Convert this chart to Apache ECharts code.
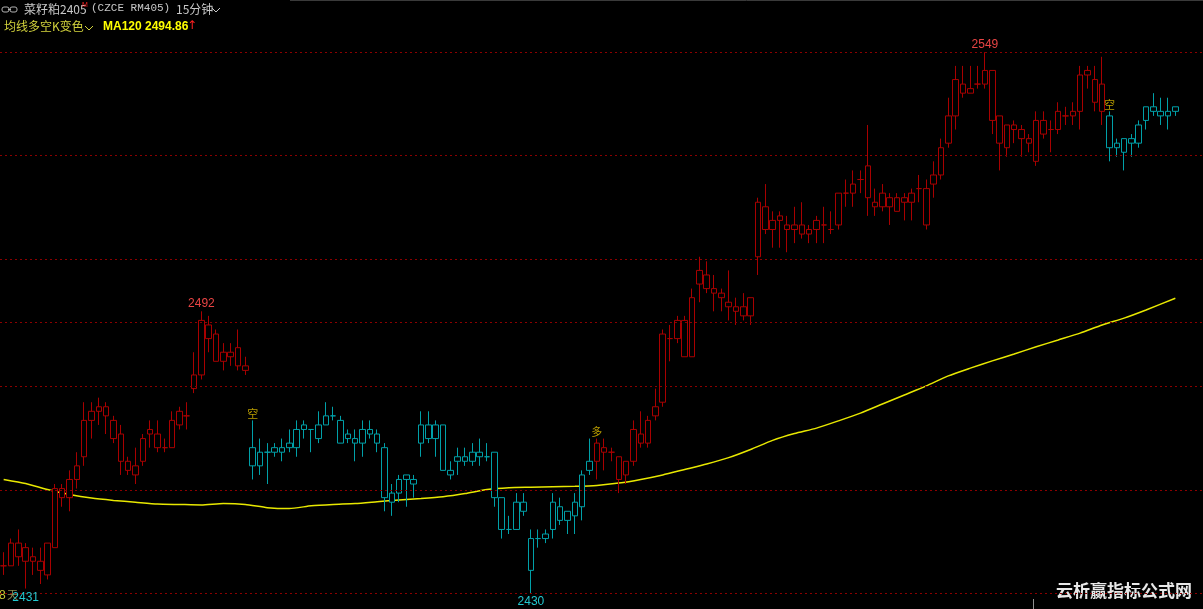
<!DOCTYPE html>
<html>
<head>
<meta charset="utf-8">
<script src="https://cdn.jsdelivr.net/npm/echarts@6/dist/echarts.min.js"></script>
<style>
html,body{margin:0;padding:0;background:#000;}
#chart{width:1203px;height:609px;}
</style>
</head>
<body>
<div id="chart"></div>
<script>
// ---- data (15-minute bars, 菜籽粕2405) ----
const opens  = [2436,2436,2441,2440,2437,2437,2434,2440,2453,2451,2455,2460,2468,2470,2471,2468,2465,2459,2456,2459,2465,2465,2462,2462,2467,2469,2475,2478,2489,2487,2481,2482,2484,2480,
2462,2458,2461,2461,2461,2463,2462,2467,2466,2464,2467,2469,2468,2464,2464,2463,2466,2465,2462,2450,2452,2455,2455,2463,2467,2464,2467,2457,2460,2459,2459,2460,2460,2461,2451,2444,2444,2450,2435,2442,2442,2444,2449,2446,2447,2449,2457,
2459,2462,2461,2460,2456,2459,2465,2463,2469,2472,2486,2486,2490,2482,2498,2500,2497,2496,2494,2492,2493,2491,2504,2515,2510,2513,2511,2510,2511,2509,2510,2511,2510,2511,2518,2518,2521,2524,2516,2515,2517,2514,2516,2516,2519,2511,2520,2522,2529,2535,2542,2540,2542,2542,2545,2535,2528,2533,2532,2530,2525,2534,2532,2532,2535,2535,2536,2544,2538,2542,
2535,2529,2527,2529,2529,2534,2537,2536,2535,2536];
const closes = [2436,2441,2438,2437,2438,2435,2441,2453,2451,2455,2458,2468,2470,2471,2469,2464,2459,2457,2458,2464,2466,2462,2462,2468,2470,2469,2478,2490,2486,2481,2483,2483,2480,2479,
2458,2461,2461,2462,2462,2462,2466,2466,2466,2467,2469,2469,2463,2465,2463,2466,2465,2463,2451,2452,2455,2456,2454,2467,2464,2467,2457,2456,2459,2460,2461,2461,2460,2451,2444,2444,2450,2448,2442,2442,2443,2450,2446,2448,2450,2456,2459,
2463,2461,2461,2455,2459,2466,2463,2468,2471,2487,2486,2490,2482,2495,2501,2497,2496,2495,2493,2493,2491,2495,2516,2510,2512,2512,2510,2511,2509,2510,2512,2511,2510,2518,2518,2520,2521,2517,2515,2518,2515,2517,2517,2518,2519,2519,2522,2528,2535,2543,2540,2541,2542,2545,2534,2529,2533,2532,2530,2529,2534,2531,2532,2536,2535,2536,2544,2545,2543,2536,
2528,2528,2530,2530,2533,2537,2536,2535,2536,2537];
const lows   = [2434,2436,2436,2431,2434,2432,2433,2440,2449,2448,2453,2458,2464,2467,2465,2463,2456,2456,2454,2458,2462,2461,2461,2462,2466,2466,2474,2477,2483,2481,2479,2480,2479,2478,
2455,2456,2454,2460,2459,2461,2460,2464,2461,2463,2467,2468,2463,2463,2459,2460,2464,2461,2448,2447,2450,2449,2451,2460,2463,2460,2457,2455,2456,2458,2458,2458,2459,2449,2442,2443,2444,2447,2430,2440,2441,2442,2445,2443,2443,2446,2456,
2455,2457,2459,2452,2454,2458,2462,2462,2468,2471,2481,2485,2482,2482,2494,2496,2492,2492,2490,2489,2490,2489,2500,2509,2506,2506,2505,2507,2508,2507,2507,2507,2509,2510,2515,2515,2518,2513,2513,2514,2511,2514,2512,2512,2516,2510,2517,2521,2528,2532,2539,2540,2541,2541,2531,2523,2526,2529,2526,2527,2524,2530,2527,2531,2533,2533,2532,2541,2536,2533,
2525,2526,2523,2526,2528,2532,2535,2533,2532,2535];
const highs  = [2439,2442,2444,2441,2440,2440,2441,2454,2454,2457,2461,2472,2472,2473,2472,2469,2467,2460,2462,2465,2468,2468,2464,2470,2471,2472,2483,2492,2491,2488,2485,2485,2488,2482,
2468,2464,2463,2463,2464,2466,2468,2468,2466,2470,2472,2471,2469,2466,2466,2468,2468,2466,2463,2454,2456,2456,2456,2470,2470,2468,2467,2459,2462,2462,2463,2464,2463,2461,2451,2447,2452,2452,2444,2444,2444,2452,2451,2448,2452,2457,2464,
2464,2464,2462,2460,2459,2468,2470,2469,2475,2488,2489,2491,2491,2497,2504,2503,2500,2497,2501,2495,2496,2495,2517,2520,2514,2514,2513,2515,2516,2511,2513,2515,2514,2518,2521,2523,2523,2533,2519,2520,2518,2518,2518,2519,2522,2521,2525,2530,2539,2546,2546,2546,2546,2549,2545,2535,2533,2534,2533,2531,2536,2536,2534,2538,2537,2538,2546,2546,2546,2548,
2536,2530,2530,2531,2534,2537,2540,2539,2539,2537];

// MA120 readings (bar index -> value)
const maIndex = [0,3,6,9,12,15,18,21,24,27,30,33,36,39,42,45,48,51,54,57,60,63,66,69,72,75,78,81,84,87,90,93,96,99,102,105,108,111,114,117,120,123,126,129,132,135,138,141,144,147,150,153,156,160];
const maValue = [2455.0,2454.1,2452.8,2451.7,2450.9,2450.4,2450.0,2449.6,2449.5,2449.4,2449.7,2449.5,2448.8,2448.6,2449.2,2449.5,2449.7,2450.1,2450.5,2450.8,2451.2,2451.9,2452.8,2453.2,2453.3,2453.4,2453.5,2453.7,2454.2,2455.0,2456.0,2457.2,2458.4,2459.8,2461.6,2463.6,2465.1,2466.3,2467.9,2469.6,2471.6,2473.6,2475.6,2477.8,2479.5,2481.1,2482.6,2484.2,2485.7,2487.2,2489.0,2490.5,2492.3,2494.86];

// regime switches (均线多空K变色)
const signalIndex = [0, 34, 81, 151];
const signalSide  = ['多','空','多','空'];
const signalShown = [false, true, true, true];

// labelled extremes
const extremeIndex = [134, 27, 3, 72];
const extremeKind  = ['high','high','low','low'];

// horizontal reference levels as fractions of the visible range
const levelRatios = [0, 0.191, 0.382, 0.5, 0.618, 0.809, 1];

const categories = opens.map((_, i) => 'K' + (i + 1));

// ---- build ----
const lo = Math.min(...lows), hi = Math.max(...highs);
const levels = levelRatios.map(r => lo + r * (hi - lo));
const Y_MIN = 2426.5, Y_MAX = 2560.5;

const STY = {
  '多': {color:'#000000', color0:'#ff0000', borderColor:'#a80000', borderColor0:'#d00000'},
  '空': {color:'#000000', color0:'#00ffff', borderColor:'#00a0a8', borderColor0:'#00c8c8'}
};
function sideAt(i){
  let s = signalSide[0];
  for (let k = 0; k < signalIndex.length; k++) if (i >= signalIndex[k]) s = signalSide[k];
  return s;
}
const candleData = opens.map((o, i) => ({
  value: [o, closes[i], lows[i], highs[i]],
  itemStyle: STY[sideAt(i)]
}));

const markPts = [];
extremeIndex.forEach((idx, k) => {
  const isHigh = extremeKind[k] === 'high';
  markPts.push({
    coord: [idx, isHigh ? highs[idx] : lows[idx]],
    value: isHigh ? highs[idx] : lows[idx],
    label: {
      show: true,
      position: isHigh ? 'top' : 'bottom',
      distance: isHigh ? 2 : 3,
      formatter: String(isHigh ? highs[idx] : lows[idx]),
      color: isHigh ? '#e84444' : '#22c8d0',
      fontSize: 12,
      fontFamily: 'Liberation Sans, Arial, sans-serif'
    }
  });
});
signalIndex.forEach((idx, k) => {
  if (!signalShown[k]) return;
  markPts.push({
    coord: [idx, highs[idx]],
    value: signalSide[k],
    label: {
      show: true, position: 'top', distance: 1,
      formatter: signalSide[k],
      color: '#b89c00', fontSize: 11,
      fontFamily: 'Noto Sans CJK SC, sans-serif'
    }
  });
});

const maLast = maValue[maValue.length - 1];

const chart = echarts.init(document.getElementById('chart'), null, {renderer: 'canvas'});
chart.setOption({
  backgroundColor: '#000000',
  animation: false,
  grid: [
    {left: -1, width: 1180, top: 0, bottom: 0},
    {left: 0, right: 0, top: 0, bottom: 0}
  ],
  xAxis: [
    {type: 'category', data: categories, gridIndex: 0, boundaryGap: true, show: false},
    {type: 'value', gridIndex: 1, min: 0, max: 1, show: false}
  ],
  yAxis: [
    {type: 'value', gridIndex: 0, min: Y_MIN, max: Y_MAX, show: false, splitLine: {show: false}},
    {type: 'value', gridIndex: 1, min: Y_MIN, max: Y_MAX, show: false, splitLine: {show: false}}
  ],
  series: [
    {
      type: 'line', xAxisIndex: 1, yAxisIndex: 1, z: 1,
      data: [[0, lo], [1, lo]], symbol: 'none',
      lineStyle: {opacity: 0}, silent: true,
      markLine: {
        silent: true, symbol: ['none', 'none'], label: {show: false},
        lineStyle: {color: '#8c0000', type: [2, 3], width: 1},
        data: levels.map(v => ({yAxis: v}))
      }
    },
    {
      type: 'line', xAxisIndex: 0, yAxisIndex: 0, z: 3,
      data: maIndex.map((idx, k) => [idx, maValue[k]]),
      symbol: 'none', smooth: 0.2,
      lineStyle: {color: '#e8e800', width: 1.5}
    },
    {
      type: 'candlestick', xAxisIndex: 0, yAxisIndex: 0, z: 4,
      barWidth: 6,
      data: candleData,
      markPoint: {
        symbol: 'circle', symbolSize: 0.1,
        itemStyle: {color: 'rgba(0,0,0,0)'},
        data: markPts
      }
    }
  ],
  graphic: [
    {type: 'line', shape: {x1: 290, y1: 0.5, x2: 1203, y2: 0.5}, style: {stroke: '#3a3a3a', lineWidth: 1}},
    {type: 'rect', shape: {x: 2, y: 7, width: 7, height: 5, r: 2}, style: {fill: 'none', stroke: '#b0b0b0', lineWidth: 1}},
    {type: 'rect', shape: {x: 10, y: 7, width: 7, height: 5, r: 2}, style: {fill: 'none', stroke: '#b0b0b0', lineWidth: 1}},
    {type: 'line', shape: {x1: 8, y1: 9.5, x2: 11, y2: 9.5}, style: {stroke: '#b0b0b0', lineWidth: 1}},
    {type: 'text', left: 24, top: 3, style: {text: '菜籽粕2405', fill: '#c8c8c8', font: '12px "Noto Sans CJK SC", sans-serif'}},
    {type: 'text', left: 82, top: 2, style: {text: 'M', fill: '#ff2020', font: '7px "Liberation Sans", sans-serif'}},
    {type: 'text', left: 91, top: 3, style: {text: '(CZCE RM405)', fill: '#c8c8c8', font: '11px "Liberation Mono", monospace'}},
    {type: 'text', left: 176, top: 3, style: {text: '15分钟', fill: '#c8c8c8', font: '12px "Noto Sans CJK SC", sans-serif'}},
    {type: 'polyline', shape: {points: [[212, 8], [216, 12], [220, 8]]}, style: {stroke: '#c8c8c8', lineWidth: 1, fill: 'none'}},
    {type: 'text', left: 4, top: 20, style: {text: '均线多空K变色', fill: '#d2d23c', font: '12px "Noto Sans CJK SC", sans-serif'}},
    {type: 'polyline', shape: {points: [[85, 26], [89, 30], [93, 26]]}, style: {stroke: '#d2d23c', lineWidth: 1, fill: 'none'}},
    {type: 'text', left: 103, top: 21, style: {text: 'MA120 ' + maLast.toFixed(2), fill: '#ffff00', font: 'bold 12px "Liberation Sans", Arial, sans-serif'}},
    {type: 'text', left: 187, top: 20, style: {text: '↑', fill: '#ff2020', font: '12px "DejaVu Sans", sans-serif'}},
    {type: 'text', left: -1, top: 590, z: 0, style: {text: '8', fill: '#c8c832', font: '12px "Liberation Sans", sans-serif'}},
    {type: 'text', left: 7, top: 589, z: 0, style: {text: '天', fill: '#8c8c50', font: '11px "Noto Sans CJK SC", sans-serif'}},
    {type: 'line', shape: {x1: 1033.5, y1: 599, x2: 1033.5, y2: 609}, style: {stroke: '#909090', lineWidth: 1}},
    {type: 'text', left: 1056, top: 582, style: {text: '云析赢指标公式网', fill: '#e8e8e8', font: 'bold 17px "Noto Sans CJK SC", sans-serif'}}
  ]
});
</script>
</body>
</html>
